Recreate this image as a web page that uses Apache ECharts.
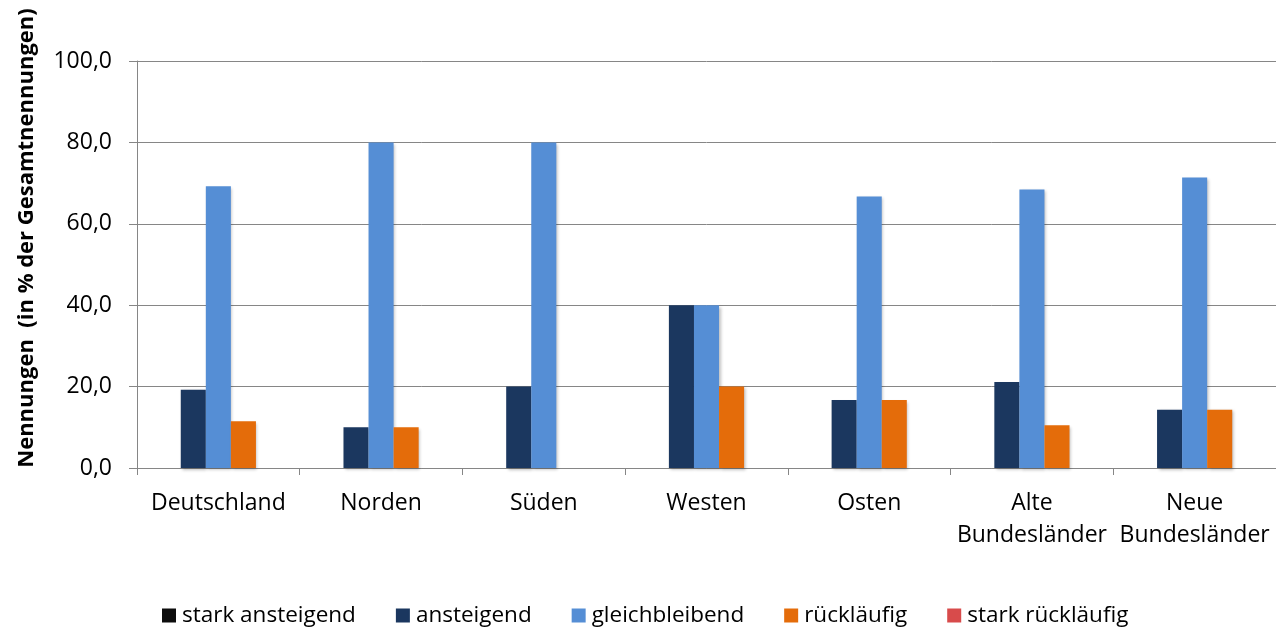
<!DOCTYPE html>
<html>
<head>
<meta charset="utf-8">
<script src="https://cdn.jsdelivr.net/npm/echarts@6/dist/echarts.min.js"></script>
<style>
html,body{margin:0;padding:0;background:#fff;}
#chart{width:1276px;height:628px;}
</style>
</head>
<body>
<div id="chart"></div>
<script>
const categories = ['Deutschland', 'Norden', 'Süden', 'Westen', 'Osten', 'Alte\nBundesländer', 'Neue\nBundesländer'];
const seriesNames = ['stark ansteigend', 'ansteigend', 'gleichbleibend', 'rückläufig', 'stark rückläufig'];
const starkAnsteigend = [0, 0, 0, 0, 0, 0, 0];
const ansteigend = [19.2, 10.0, 20.0, 40.0, 16.7, 21.1, 14.3];
const gleichbleibend = [69.2, 80.0, 80.0, 40.0, 66.7, 68.4, 71.4];
const ruecklaeufig = [11.5, 10.0, 0, 20.0, 16.7, 10.5, 14.3];
const starkRuecklaeufig = [0, 0, 0, 0, 0, 0, 0];
const yTicks = { min: 0, max: 100, interval: 20 };
const yAxisTitle = 'Nennungen  (in % der Gesamtnennungen)';

const colors = ['#0d0d0d', '#1b375f', '#558ed5', '#e46c0a', '#d84b4b'];
const seriesData = [starkAnsteigend, ansteigend, gleichbleibend, ruecklaeufig, starkRuecklaeufig];
const font = '"Open Sans", sans-serif';

const chart = echarts.init(document.getElementById('chart'), null, { renderer: 'canvas' });
chart.setOption({
  animation: false,
  backgroundColor: '#ffffff',
  color: colors,
  textStyle: { fontFamily: font },
  grid: { left: 137, right: -9, top: 61, bottom: 160, containLabel: false },
  legend: {
    left: 157,
    top: 599,
    itemWidth: 14,
    itemHeight: 14,
    itemGap: 40,
    icon: 'rect',
    textStyle: { fontFamily: font, fontSize: 22.5, color: '#000', padding: [0, 0, 0, 1] },
    data: seriesNames
  },
  graphic: [{
    type: 'text',
    x: 27,
    y: 238,
    rotation: Math.PI / 2,
    style: {
      text: yAxisTitle,
      fontFamily: font,
      fontSize: 22,
      fontWeight: 'bold',
      fill: '#000',
      align: 'center',
      verticalAlign: 'middle'
    }
  }],
  xAxis: {
    type: 'category',
    data: categories,
    boundaryGap: true,
    axisLine: { lineStyle: { color: '#868686', width: 1 } },
    axisTick: { show: true, alignWithLabel: false, length: 7, lineStyle: { color: '#868686' } },
    axisLabel: { color: '#000', fontSize: 23, fontFamily: font, margin: 19, lineHeight: 32, interval: 0 },
    splitLine: { show: false }
  },
  yAxis: {
    type: 'value',
    min: yTicks.min,
    max: yTicks.max,
    interval: yTicks.interval,
    axisLine: { show: true, lineStyle: { color: '#868686', width: 1 } },
    axisTick: { show: true, length: 8, lineStyle: { color: '#868686' } },
    axisLabel: {
      color: '#000', fontSize: 23, fontFamily: font, margin: 25,
      formatter: v => v.toFixed(1).replace('.', ',')
    },
    splitLine: { show: true, lineStyle: { color: '#868686', width: 1 } }
  },
  series: seriesNames.map((name, i) => ({
    name: name,
    type: 'bar',
    data: seriesData[i],
    barGap: '0%',
    barCategoryGap: '23%',
    itemStyle: {
      color: colors[i],
      shadowColor: 'rgba(0,0,0,0.25)',
      shadowBlur: 3,
      shadowOffsetX: 1.5,
      shadowOffsetY: 1.5
    }
  }))
});
</script>
</body>
</html>
